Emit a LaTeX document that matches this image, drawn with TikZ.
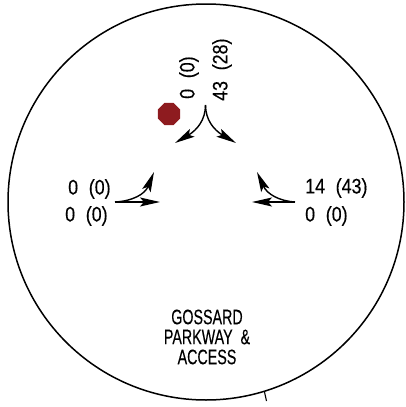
\documentclass[tikz,border=0pt]{standalone}
\usepackage{fontspec}
\setmainfont[FakeBold=0.3]{Liberation Sans}
\usetikzlibrary{arrows.meta, shapes.geometric}

\definecolor{stopred}{HTML}{8E1B1F}
\newcommand{\volgap}{\hspace{0.6em}}

\tikzset{
	volume/.style={font=\fontsize{21}{21}\selectfont, xscale=0.85, transform shape, inner sep=0pt},
	sitename/.style={font=\fontsize{21}{21}\selectfont, xscale=0.68, transform shape, inner sep=0pt},
	movement/.style={line width=1.4pt, -{Stealth[length=20pt, width=9pt, inset=4pt]}}
}

\begin{document}
\begin{tikzpicture}[x=1pt, y=-1pt]
		% Fix the page to the size of the reference
		\useasboundingbox (0,0) rectangle (406,407);

		% Draw the outer circle and the tick on it
		\coordinate (center) at (206,202);
		\draw[line width=1.5pt] (center) circle [radius=198];
		\coordinate (tickin) at (264.5,392);
		\coordinate (tickout) at (266.5,401);
		\draw[line width=1.1pt] (tickin) -- (tickout);

		% Add the stop sign
		\node[regular polygon, regular polygon sides=8, fill=stopred, minimum size=24pt, inner sep=0pt] (stopsign) at (169,114) {};

		% Add the north approach
		\coordinate (northstart) at (205.5,105);
		\coordinate (northleft) at (175,143);
		\coordinate (northright) at (236,143);
		\draw[movement] (northstart) .. controls (205.5,120) and (197,130) .. (northleft);
		\draw[movement] (northstart) .. controls (205.5,120) and (214,130) .. (northright);
		\node[rotate=90, volume, anchor=west] (northa) at (189,99) {0\volgap(0)};
		\node[rotate=90, volume, anchor=west] (northb) at (222,101) {43\volgap(28)};

		% Add the west approach
		\coordinate (weststart) at (115,202);
		\coordinate (westthrough) at (160,202);
		\coordinate (westturn) at (154,172);
		\draw[movement] (weststart) -- (westthrough);
		\draw[movement] (weststart) .. controls (133,201) and (145,194) .. (westturn);
		\node[volume, anchor=west] (westa) at (68,189) {0\volgap(0)};
		\node[volume, anchor=west] (westb) at (65,216) {0\volgap(0)};

		% Add the east approach
		\coordinate (eaststart) at (295,202);
		\coordinate (eastthrough) at (252,202);
		\coordinate (eastturn) at (257,172);
		\draw[movement] (eaststart) -- (eastthrough);
		\draw[movement] (eaststart) .. controls (279,201) and (267,194) .. (eastturn);
		\node[volume, anchor=west] (easta) at (305,188) {14\volgap(43)};
		\node[volume, anchor=west] (eastb) at (305,216) {0\volgap(0)};

		% Add the intersection name
		\node[sitename] (namea) at (207,317) {GOSSARD};
		\node[sitename] (nameb) at (207,337) {PARKWAY\ \ \&};
		\node[sitename] (namec) at (207,357) {ACCESS};

	\end{tikzpicture}
\end{document}
